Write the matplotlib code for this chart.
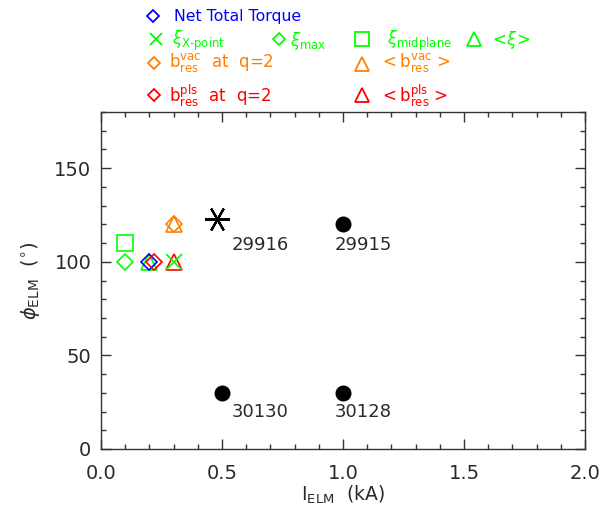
import matplotlib
matplotlib.use("Agg")
import matplotlib.pyplot as plt
from matplotlib.lines import Line2D
from matplotlib.ticker import MultipleLocator, FormatStrFormatter

plt.rcParams['font.family'] = ['DejaVu Sans']
plt.rcParams['mathtext.fontset'] = 'dejavusans'

# ---------------- data ----------------
shots = ['29915', '29916', '30130', '30128']
shot_I = [1.0, 0.48, 0.5, 1.0]          # I_ELM (kA)
shot_phi = [120, 123, 30, 30]           # phi_ELM (deg)
shot_marker = ['o', 'asterisk', 'o', 'o']

# quantity estimates (I_ELM, phi_ELM)
torque_I, torque_phi = [0.20], [100]
xi_xpt_I, xi_xpt_phi = [0.30], [100]
xi_max_I, xi_max_phi = [0.10], [100]
xi_mid_I, xi_mid_phi = [0.10], [110]
xi_avg_I, xi_avg_phi = [0.20], [100]
bvac_q2_I, bvac_q2_phi = [0.30], [120]
bvac_avg_I, bvac_avg_phi = [0.30], [120]
bpls_q2_I, bpls_q2_phi = [0.22], [100]
bpls_avg_I, bpls_avg_phi = [0.30], [100]

# ---------------- style ----------------
BLUE = '#0000ff'
GREEN = '#00ff00'
ORANGE = '#ff8000'
RED = '#ff0000'
TXT = '#2a2a2a'

W, H = 616, 515
fig = plt.figure(figsize=(W / 100, H / 100), dpi=100)
ax = fig.add_axes([101 / W, 1 - 449 / H, 484 / W, 337 / H])

ast = (6, 2, 90)
for I, p, m in zip(shot_I, shot_phi, shot_marker):
    if m == 'o':
        ax.plot(I, p, 'o', color='black', ms=10.5, zorder=5)
    else:
        ax.plot(I, p, marker=ast, color='black', ms=18, mew=1.6, ls='none', zorder=5)

# shot labels (layout positions)
label_pos = {'29915': (0.965, 109), '29916': (0.54, 109),
             '30130': (0.54, 19.5), '30128': (0.965, 19.5)}
for s in shots:
    x, y = label_pos[s]
    ax.text(x, y, s, fontsize=13, va='center', ha='left', color=TXT)

def mk(I, p, marker, color, ms):
    ax.plot(I, p, marker=marker, ls='none', mfc='none', mec=color, ms=ms, mew=1.2, zorder=4)

mk(xi_mid_I, xi_mid_phi, 's', GREEN, 11.5)
mk(xi_max_I, xi_max_phi, 'D', GREEN, 8)
mk(xi_avg_I, xi_avg_phi, '^', GREEN, 12)
mk(torque_I, torque_phi, 'D', BLUE, 8)
mk(bpls_q2_I, bpls_q2_phi, 'D', RED, 8)
mk(bvac_q2_I, bvac_q2_phi, 'D', ORANGE, 8)
mk(bvac_avg_I, bvac_avg_phi, '^', ORANGE, 12)
mk(bpls_avg_I, bpls_avg_phi, '^', RED, 12)
mk(xi_xpt_I, xi_xpt_phi, 'x', GREEN, 12)

ax.set_xlim(0, 2.0)
ax.set_ylim(0, 180)
ax.xaxis.set_major_locator(MultipleLocator(0.5))
ax.xaxis.set_minor_locator(MultipleLocator(0.1))
ax.yaxis.set_major_locator(MultipleLocator(50))
ax.yaxis.set_minor_locator(MultipleLocator(10))
ax.xaxis.set_major_formatter(FormatStrFormatter('%.1f'))
ax.yaxis.set_major_formatter(FormatStrFormatter('%d'))
ax.tick_params(which='both', direction='in', top=True, right=True,
               colors='#333333', labelcolor=TXT, labelsize=14)
ax.tick_params(which='major', length=7, width=1)
ax.tick_params(which='minor', length=3.5, width=1)
ax.tick_params(axis='x', pad=11)
ax.tick_params(axis='y', pad=7)
for sp in ax.spines.values():
    sp.set_color('#333333')
    sp.set_linewidth(1.0)

ax.set_xlabel(r'$\mathrm{I}_{\mathrm{ELM}}$  (kA)', fontsize=13.5, color=TXT, labelpad=0)
ax.set_ylabel(r'$\phi_{\mathrm{ELM}}$  ($^{\circ}$)', fontsize=14, color=TXT, labelpad=9)

# ---------------- legend (figure coords) ----------------
def fx(x):
    return x / W

def fy(y):
    return 1 - y / H

def leg_marker(x, y, marker, color, ms):
    fig.add_artist(Line2D([fx(x)], [fy(y)], marker=marker, ls='none', mfc='none',
                          mec=color, ms=ms, mew=1.3, transform=fig.transFigure))

def leg_text(x, y, s, color, fs=11.3):
    fig.text(fx(x), fy(y), s, color=color, fontsize=fs, va='center', ha='left')

leg_marker(153, 16, 'D', BLUE, 6.5)
leg_text(174, 16, 'Net Total Torque', BLUE)

leg_marker(156, 39, 'x', GREEN, 9)
leg_text(172, 41, r'$\xi_{\mathrm{X}\text{-}\mathrm{point}}$', GREEN, 12)
leg_marker(279, 39, 'D', GREEN, 6.5)
leg_text(290, 41, r'$\xi_{\mathrm{max}}$', GREEN, 12)
leg_marker(362, 39, 's', GREEN, 10)
leg_text(387, 41, r'$\xi_{\mathrm{midplane}}$', GREEN, 12)
leg_marker(474, 39, '^', GREEN, 10)
leg_text(489, 40, r'$<\!\xi\!>$', GREEN, 12)

leg_marker(154, 63, 'D', ORANGE, 6.5)
leg_text(169, 63, r'$\mathrm{b}_{\mathrm{res}}^{\mathrm{vac}}$  at  q=2', ORANGE, 12)
leg_marker(362, 64, '^', ORANGE, 10)
leg_text(379, 63, r'$<\mathrm{b}_{\mathrm{res}}^{\mathrm{vac}}$ >', ORANGE, 12)

leg_marker(154, 95, 'D', RED, 6.5)
leg_text(169, 96, r'$\mathrm{b}_{\mathrm{res}}^{\mathrm{pls}}$  at  q=2', RED, 12)
leg_marker(362, 95, '^', RED, 10)
leg_text(379, 96, r'$<\mathrm{b}_{\mathrm{res}}^{\mathrm{pls}}$ >', RED, 12)

fig.savefig('out.png', dpi=100)
